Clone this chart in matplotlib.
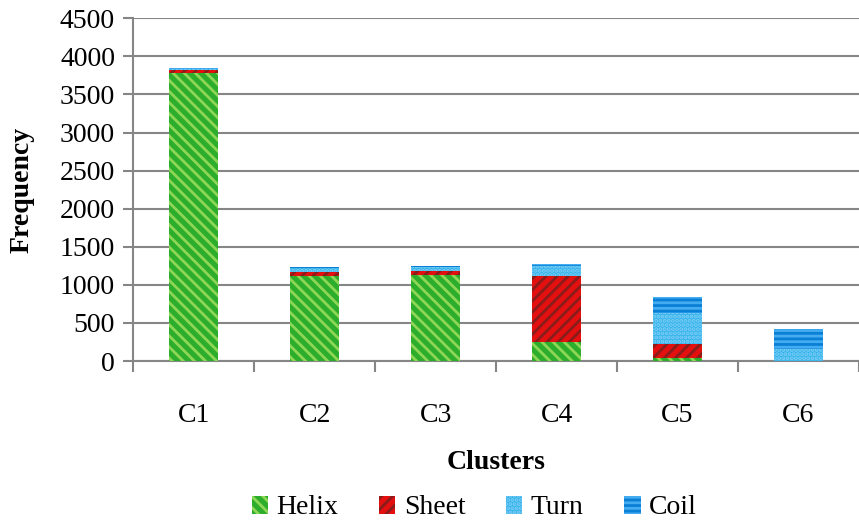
import matplotlib.pyplot as plt
import numpy as np

clusters = ["C1", "C2", "C3", "C4", "C5", "C6"]
helix = [3780, 1115, 1135, 250, 45, 0]
sheet = [35, 50, 50, 870, 175, 5]
turn = [25, 50, 45, 130, 410, 150]
coil = [10, 20, 20, 25, 215, 260]
series_names = ["Helix", "Sheet", "Turn", "Coil"]

plt.rcParams['font.family'] = ['Liberation Serif', 'DejaVu Serif']
plt.rcParams['hatch.linewidth'] = 2.0

fig = plt.figure(figsize=(8.59, 5.21), dpi=100)
ax = fig.add_axes([0.155, 0.307, 0.845, 0.658])

x = np.arange(len(clusters))
width = 0.4
styles = [
    dict(color="#2cae2c", edgecolor="#8ed656", hatch="\\\\\\"),
    dict(color="#e41010", edgecolor="#8a1c1c", hatch="///"),
    dict(color="#33b4ec", edgecolor="#7fcdf4", hatch="...."),
    dict(color="#0a7fd6", edgecolor="#44acf0", hatch="---"),
]

bottom = np.zeros(len(clusters))
for name, vals, st in zip(series_names, [helix, sheet, turn, coil], styles):
    ax.bar(x, vals, width, bottom=bottom, label=name, linewidth=0, zorder=3, **st)
    bottom += np.array(vals)

ax.set_ylim(0, 4500)
ax.set_yticks(np.arange(0, 4501, 500))
ax.set_xlim(-0.5, len(clusters) - 0.5)
ax.set_xticks(x)
ax.set_xticklabels(clusters)
ax.set_xticks(np.arange(-0.5, len(clusters), 1), minor=True)
ax.tick_params(axis="x", which="major", length=0, pad=30, labelsize=20)
ax.tick_params(axis="x", which="minor", length=8, width=1.5, color="#868686", direction="out")
ax.tick_params(axis="y", length=7, width=1.5, color="#868686", labelsize=20, pad=6)

ax.grid(axis="y", color="#868686", linewidth=1.5, zorder=0)
for s in ["top", "right"]:
    ax.spines[s].set_visible(False)
for s in ["left", "bottom"]:
    ax.spines[s].set_color("#868686")
    ax.spines[s].set_linewidth(1.5)

ax.set_ylabel("Frequency", fontsize=20, fontweight="bold", labelpad=18)
ax.set_xlabel("Clusters", fontsize=20, fontweight="bold", labelpad=16)

fig.legend(loc="center", bbox_to_anchor=(0.552, 0.025), ncol=4, frameon=False,
           fontsize=20, handlelength=0.6, handleheight=0.6, columnspacing=1.45,
           handletextpad=0.3, borderaxespad=0)

fig.savefig("out.png", dpi=100)
